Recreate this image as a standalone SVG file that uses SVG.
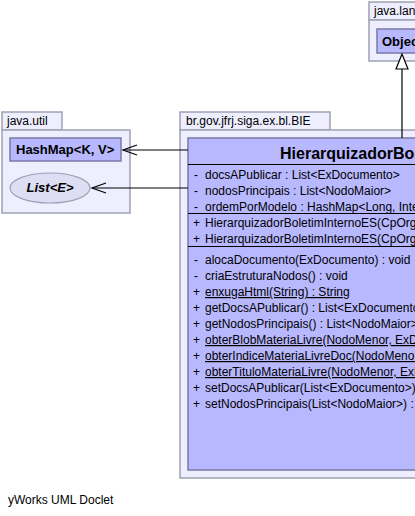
<svg xmlns="http://www.w3.org/2000/svg" width="415" height="516" viewBox="0 0 415 516">
<style>
.pkg{fill:#eeeeff;stroke:#a0a0b4;stroke-width:1.5}
.cls{fill:#b8b8ff;stroke:#7a7aa8;stroke-width:1.5}
.sep{stroke:#000;stroke-width:1}
.t{font-family:"Liberation Sans",Arial,sans-serif;font-size:12px;fill:#000}
.b{font-family:"Liberation Sans",Arial,sans-serif;font-size:13px;font-weight:bold;fill:#000}
.title{font-family:"Liberation Sans",Arial,sans-serif;font-size:16px;font-weight:bold;fill:#000}
.u{text-decoration:underline}
.edge{stroke:#000;stroke-width:1.2;fill:none}
</style>
<rect width="415" height="516" fill="#ffffff"/>
<g id="pkg-java-lang">
<rect class="pkg" x="369" y="2" width="60" height="18"/>
<rect class="pkg" x="369" y="20" width="60" height="41"/>
<text class="t" x="374" y="15">java.lang</text>
</g>
<g id="node-Object">
<rect class="cls" x="377" y="29" width="50" height="24"/>
<text class="b" x="382" y="46">Object</text>
</g>
<g id="pkg-java-util">
<rect class="pkg" x="2" y="112" width="60" height="18"/>
<rect class="pkg" x="2" y="130" width="128" height="83"/>
<text class="t" x="7" y="125">java.util</text>
</g>
<g id="node-HashMap">
<rect class="cls" x="10" y="138" width="111" height="23"/>
<text class="b" x="16" y="154">HashMap&lt;K, V&gt;</text>
</g>
<g id="node-List">
<ellipse cx="50" cy="188" rx="40" ry="15" fill="#ddddf4" stroke="#a0a0b4" stroke-width="1.2"/>
<text class="b" x="50" y="192" text-anchor="middle" font-style="italic">List&lt;E&gt;</text>
</g>
<g id="pkg-bie">
<rect class="pkg" x="180" y="112" width="150" height="18"/>
<rect class="pkg" x="180" y="130" width="245" height="348"/>
<text class="t" x="186" y="125">br.gov.jfrj.siga.ex.bl.BIE</text>
</g>
<g id="node-Hierarquizador">
<rect class="cls" x="188" y="138" width="240" height="332"/>
<text class="title" x="280" y="159">HierarquizadorBoletimInternoES</text>
<line class="sep" x1="188" y1="164.5" x2="415" y2="164.5"/>
<line class="sep" x1="188" y1="213.5" x2="415" y2="213.5"/>
<line class="sep" x1="188" y1="246.5" x2="415" y2="246.5"/>
<g class="t">
<text x="194" y="179">-</text><text x="205" y="179">docsAPublicar : List&lt;ExDocumento&gt;</text>
<text x="194" y="195">-</text><text x="205" y="195">nodosPrincipais : List&lt;NodoMaior&gt;</text>
<text x="194" y="211">-</text><text x="205" y="211">ordemPorModelo : HashMap&lt;Long, Integer&gt;</text>
<text x="193" y="227">+</text><text x="205" y="227">HierarquizadorBoletimInternoES(CpOrgaoUsuario)</text>
<text x="193" y="243">+</text><text x="205" y="243">HierarquizadorBoletimInternoES(CpOrgaoUsuario)</text>
<text x="194" y="264">-</text><text x="205" y="264">alocaDocumento(ExDocumento) : void</text>
<text x="194" y="280">-</text><text x="205" y="280">criaEstruturaNodos() : void</text>
<text x="193" y="296">+</text><text class="u" x="205" y="296">enxugaHtml(String) : String</text>
<text x="193" y="312">+</text><text x="205" y="312">getDocsAPublicar() : List&lt;ExDocumento&gt;</text>
<text x="193" y="328">+</text><text x="205" y="328">getNodosPrincipais() : List&lt;NodoMaior&gt;</text>
<text x="193" y="344">+</text><text class="u" x="205" y="344">obterBlobMateriaLivre(NodoMenor, ExDocumento)</text>
<text x="193" y="360">+</text><text class="u" x="205" y="360">obterIndiceMateriaLivreDoc(NodoMenor, ExDocumento)</text>
<text x="193" y="376">+</text><text class="u" x="205" y="376">obterTituloMateriaLivre(NodoMenor, ExDocumento)</text>
<text x="193" y="392">+</text><text x="205" y="392">setDocsAPublicar(List&lt;ExDocumento&gt;) : void</text>
<text x="193" y="408">+</text><text x="205" y="408">setNodosPrincipais(List&lt;NodoMaior&gt;) : void</text>
</g>
</g>
<g id="connectors">
<line class="edge" x1="402" y1="138" x2="402" y2="69"/>
<polygon points="402,54 396,69 408,69" fill="#ffffff" stroke="#000" stroke-width="1.2"/>
<line class="edge" x1="188" y1="150" x2="123" y2="150"/>
<polyline class="edge" points="137,145 123,150 137,155"/>
<line class="edge" x1="188" y1="188" x2="92" y2="188"/>
<polyline class="edge" points="106,183 92,188 106,193"/>
</g>
<text class="t" x="8" y="504">yWorks UML Doclet</text>
</svg>
